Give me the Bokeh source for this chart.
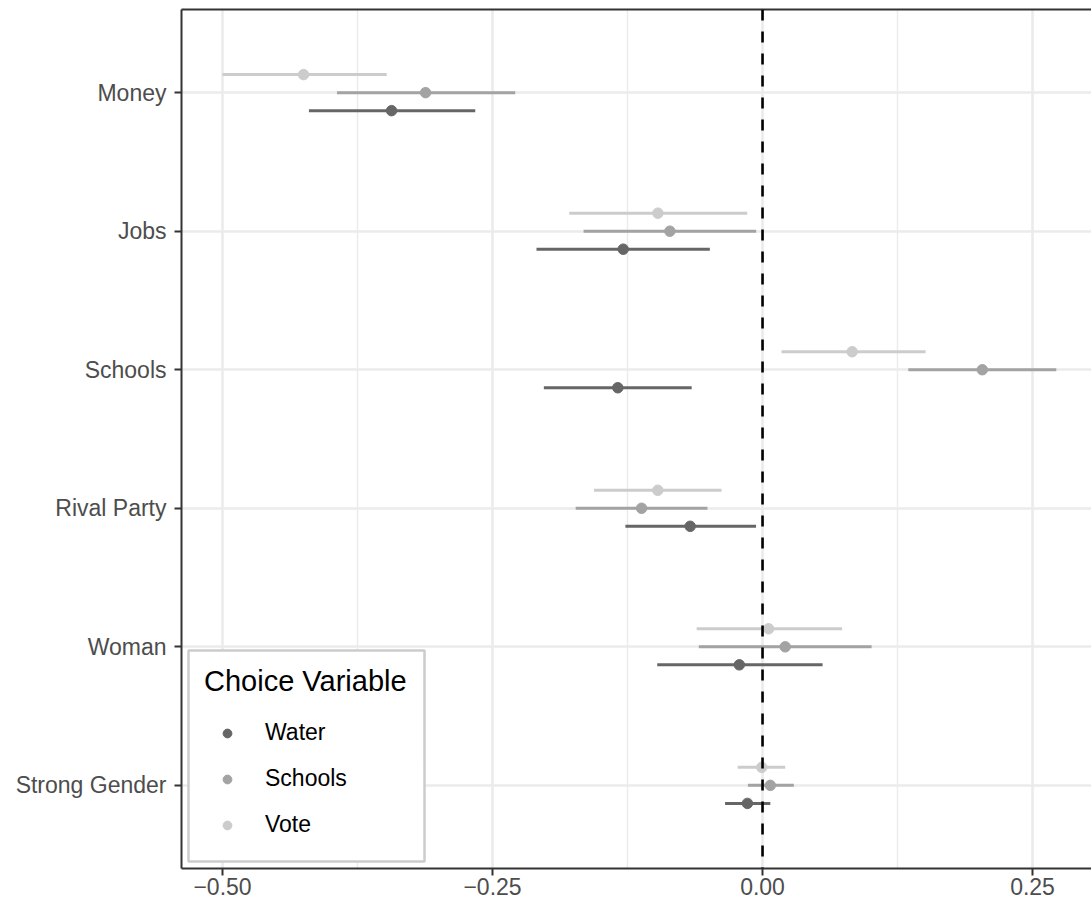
from bokeh.plotting import figure
from bokeh.models import (ColumnDataSource, Range1d, FixedTicker, CustomJSTickFormatter,
                          LinearAxis, Legend, LegendItem, Span, Grid, BoxAnnotation)
from bokeh.transform import dodge
from bokeh.embed import file_html
from bokeh.resources import INLINE

# ---- data ----
categories = ["Money", "Jobs", "Schools", "Rival Party", "Woman", "Strong Gender"]
series = ["Water", "Schools", "Vote"]
colors = ["#666666", "#A3A3A3", "#CCCCCC"]

water_est = [-0.3435, -0.129, -0.134, -0.067, -0.0215, -0.014]
water_lo = [-0.420, -0.2093, -0.2025, -0.127, -0.0975, -0.0347]
water_hi = [-0.266, -0.0488, -0.0656, -0.006, 0.0556, 0.0072]

schools_est = [-0.312, -0.0858, 0.2035, -0.112, 0.021, 0.0072]
schools_lo = [-0.394, -0.1657, 0.135, -0.173, -0.059, -0.0135]
schools_hi = [-0.229, -0.0059, 0.272, -0.051, 0.101, 0.029]

vote_est = [-0.425, -0.0969, 0.083, -0.097, 0.0056, -0.0007]
vote_lo = [-0.500, -0.179, 0.0176, -0.156, -0.061, -0.023]
vote_hi = [-0.348, -0.0142, 0.151, -0.038, 0.0737, 0.021]

x_ticks = [-0.5, -0.25, 0.0, 0.25]
x_minor = [-0.375, -0.125, 0.125]

# category positions: Money at top
pos = [len(categories) - i for i in range(len(categories))]

FONT = "Liberation Sans"

p = figure(width=1091, height=904, output_backend="svg", toolbar_location=None,
           x_range=Range1d(-0.538, 0.3046), y_range=Range1d(0.4, 6.6),
           min_border_left=181, min_border_right=0, min_border_top=9, min_border_bottom=36,
           x_axis_type=None, y_axis_type=None)
p.outline_line_color = None
p.background_fill_color = "white"
p.border_fill_color = "white"

# axes
xaxis = LinearAxis(ticker=FixedTicker(ticks=x_ticks, minor_ticks=x_minor),
                   formatter=CustomJSTickFormatter(code="""
                       const s = Math.abs(tick).toFixed(2);
                       return (tick < -1e-9 ? '\u2212' : '') + s;"""))
yaxis = LinearAxis(ticker=FixedTicker(ticks=pos),
                   formatter=CustomJSTickFormatter(args=dict(names=categories), code="""
                       const n = names.length;
                       return names[n - Math.round(tick)];"""))
for ax in (xaxis, yaxis):
    ax.axis_line_color = "#333333"
    ax.axis_line_width = 2
    ax.major_tick_line_color = "#333333"
    ax.major_tick_line_width = 2
    ax.major_tick_out = 7
    ax.major_tick_in = 0
    ax.minor_tick_line_color = None
    ax.major_label_text_font = FONT
    ax.major_label_text_font_size = "23px"
    ax.major_label_text_color = "#4D4D4D"
xaxis.major_label_standoff = 2
yaxis.major_label_standoff = 8
p.add_layout(xaxis, "below")
p.add_layout(yaxis, "left")

top = LinearAxis(ticker=FixedTicker(ticks=[]), axis_line_color="#333333", axis_line_width=2,
                 major_tick_line_color=None, minor_tick_line_color=None,
                 major_tick_out=0, major_label_standoff=0, major_label_text_font_size="0px")
p.add_layout(top, "above")

# grid
xgrid = Grid(dimension=0, ticker=xaxis.ticker, grid_line_color="#EBEBEB", grid_line_width=2.6,
             minor_grid_line_color="#EBEBEB", minor_grid_line_width=1.4)
ygrid = Grid(dimension=1, ticker=yaxis.ticker, grid_line_color="#EBEBEB", grid_line_width=2.6)
p.add_layout(xgrid)
p.add_layout(ygrid)

# data
data = {
    "Water": (water_est, water_lo, water_hi, -0.13),
    "Schools": (schools_est, schools_lo, schools_hi, 0.0),
    "Vote": (vote_est, vote_lo, vote_hi, 0.13),
}
point_renderers = {}
for name, col in zip(series, colors):
    est, lo, hi, off = data[name]
    src = ColumnDataSource(dict(pos=pos, est=est, lo=lo, hi=hi, cat=categories))
    p.segment(x0="lo", x1="hi", y0=dodge("pos", off), y1=dodge("pos", off),
              source=src, line_color=col, line_width=3)
    point_renderers[name] = p.scatter(x="est", y=dodge("pos", off), source=src,
                                      size=10.5, fill_color=col, line_color=col)

p.add_layout(Span(location=0, dimension="height", line_color="black",
                  line_width=2.6, line_dash="11 11"))

# legend box (frame-relative screen units)
p.add_layout(BoxAnnotation(left=7, right=243, bottom=7, top=218,
                           left_units="screen", right_units="screen",
                           bottom_units="screen", top_units="screen",
                           fill_color="white", fill_alpha=1.0,
                           line_color="#CCCCCC", line_width=2.5, line_alpha=1.0))

legend = Legend(items=[LegendItem(label=n, renderers=[point_renderers[n]]) for n in series],
                location=(23, 30), title="Choice Variable")
legend.title_text_font = FONT
legend.title_text_font_size = "29px"
legend.title_text_font_style = "normal"
legend.title_text_color = "black"
legend.title_standoff = 21
legend.label_text_font = FONT
legend.label_text_font_size = "23px"
legend.label_text_color = "black"
legend.border_line_color = None
legend.background_fill_alpha = 0.0
legend.padding = 10
legend.glyph_width = 46
legend.glyph_height = 22
legend.label_height = 22
legend.spacing = 19
legend.label_standoff = 15
legend.margin = 0
p.add_layout(legend, "center")

open("out.html", "w").write(file_html(p, INLINE))
